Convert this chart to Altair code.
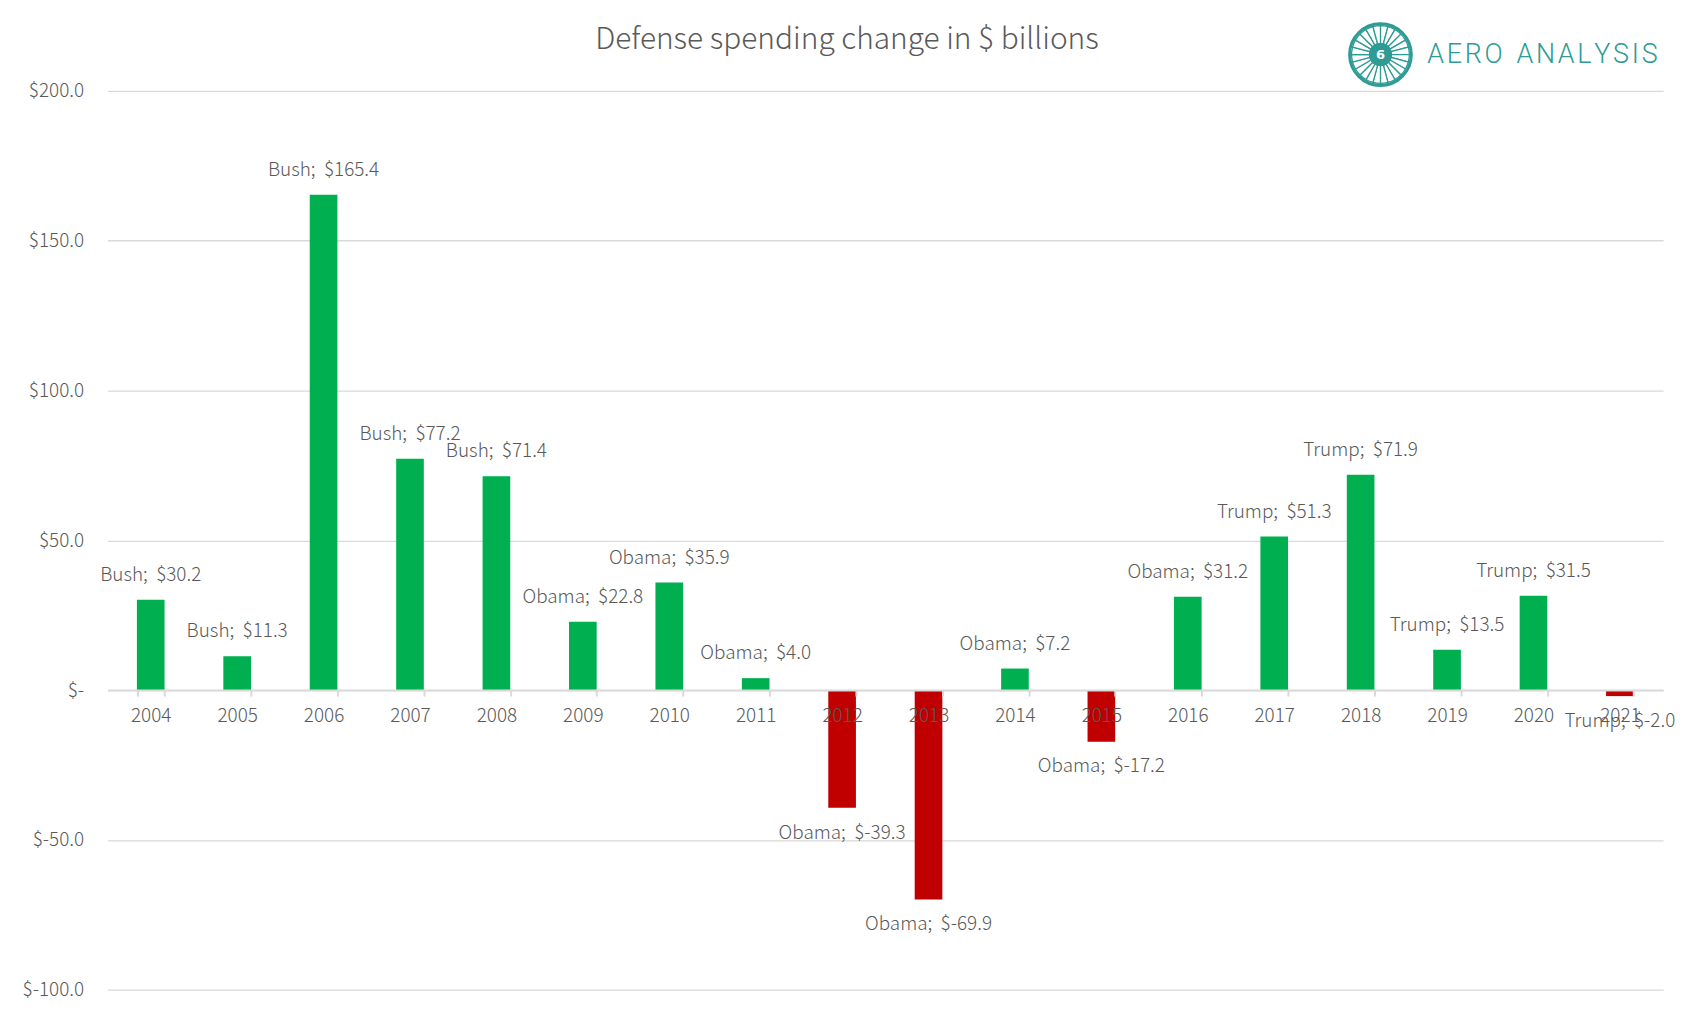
import altair as alt
import pandas as pd

years = ["2004", "2005", "2006", "2007", "2008", "2009", "2010", "2011", "2012",
         "2013", "2014", "2015", "2016", "2017", "2018", "2019", "2020", "2021"]
presidents = ["Bush", "Bush", "Bush", "Bush", "Bush", "Obama", "Obama", "Obama", "Obama",
              "Obama", "Obama", "Obama", "Obama", "Trump", "Trump", "Trump", "Trump", "Trump"]
changes = [30.2, 11.3, 165.4, 77.2, 71.4, 22.8, 35.9, 4.0, -39.3,
           -69.9, 7.2, -17.2, 31.2, 51.3, 71.9, 13.5, 31.5, -2.0]
y_ticks = [-100, -50, 0, 50, 100, 150, 200]
logo_segments = list(range(24))

df = pd.DataFrame({"year": years, "p": presidents, "v": changes})
logo_df = pd.DataFrame({"seg": logo_segments, "one": [1] * len(logo_segments)})

FONT = "Noto Sans CJK JP"
GREY = "#595959"
GRID = "#D9D9D9"
TEAL = "#2E9B94"
W, H = 1563, 903
FS = 19

x = alt.X("year:N", sort=years,
          scale=alt.Scale(paddingInner=0.68, paddingOuter=0.34),
          axis=alt.Axis(title=None, labelAngle=0, labelFont=FONT, labelFontSize=FS,
                        labelFontWeight=300,
                        labelColor=GREY, labelPadding=11, domainColor=GRID, domainWidth=2,
                        tickColor=GRID, tickWidth=2, tickSize=6, tickBand="extent",
                        offset=-301, zindex=1, grid=False))
y = alt.Y("v:Q",
          scale=alt.Scale(domain=[-100, 200], nice=False, zero=False),
          axis=alt.Axis(title=None, values=y_ticks, domain=False, ticks=False,
                        grid=True, gridColor=GRID, gridWidth=1.3,
                        labelFont=FONT, labelFontSize=FS, labelFontWeight=300,
                        labelColor=GREY, labelPadding=24,
                        labelExpr="datum.value == 0 ? '$-' : (datum.value < 0 ? '$-' : '$') + format(abs(datum.value), '.1f')"))

base = alt.Chart(df).transform_calculate(
    label="datum.p + ';\u00a0\u00a0$' + (datum.v < 0 ? '-' : '') + format(abs(datum.v), '.1f')"
)

bars = base.mark_bar().encode(
    x=x, y=y,
    color=alt.condition(alt.datum.v >= 0, alt.value("#00B050"), alt.value("#C00000")),
)

pos_labels = base.transform_filter(alt.datum.v >= 0).mark_text(
    font=FONT, fontSize=FS, fontWeight=300, color=GREY, dy=-25, baseline="middle"
).encode(x=alt.X("year:N", sort=years), y="v:Q", text="label:N")

neg_labels = base.transform_filter(alt.datum.v < 0).mark_text(
    font=FONT, fontSize=FS, fontWeight=300, color=GREY, dy=25, baseline="middle"
).encode(x=alt.X("year:N", sort=years), y="v:Q", text="label:N")

one_row = alt.Chart(logo_df).transform_filter(alt.datum.seg == 0)

title = one_row.mark_text(
    text="Defense spending change in $ billions", font=FONT, fontSize=30, fontWeight=300,
    color=GREY, align="center", baseline="middle"
).encode(x=alt.value(743), y=alt.value(-51.5))

LX, LY = 1279, -36.6
logo_blades = alt.Chart(logo_df).mark_arc(
    fill="white", stroke=TEAL, strokeWidth=1.3, radius=29, radius2=11
).encode(theta=alt.Theta("one:Q", stack=True), x=alt.value(LX), y=alt.value(LY))

logo_ring = one_row.mark_point(
    shape="circle", filled=False, stroke=TEAL, strokeWidth=3, size=62 * 62, opacity=1
).encode(x=alt.value(LX), y=alt.value(LY))

logo_hub = one_row.mark_point(
    shape="circle", filled=True, fill=TEAL, size=23 * 23, opacity=1, strokeWidth=0
).encode(x=alt.value(LX), y=alt.value(LY))

logo_swirl = one_row.mark_text(
    text="6", font="DejaVu Sans", fontSize=13, fontWeight="bold", color="white", baseline="middle"
).encode(x=alt.value(LX), y=alt.value(LY))

logo_text = one_row.mark_text(
    text="A\u200aE\u200aR\u200aO\u2002A\u200aN\u200aA\u200aL\u200aY\u200aS\u200aI\u200aS",
    font="Roboto", fontSize=27, fontWeight=300,
    color=TEAL, align="left", baseline="middle"
).encode(x=alt.value(1326), y=alt.value(-36))

chart = alt.layer(
    bars, pos_labels, neg_labels, title, logo_blades, logo_ring, logo_hub, logo_swirl, logo_text
).properties(
    width=W, height=H,
    background="white",
    autosize=alt.AutoSizeParams(type="none"),
    padding={"left": 100, "top": 81, "right": 23, "bottom": 10},
).configure_view(strokeWidth=0, stroke="transparent")

chart.save("out.html", embed_options={"renderer": "svg", "actions": False})
